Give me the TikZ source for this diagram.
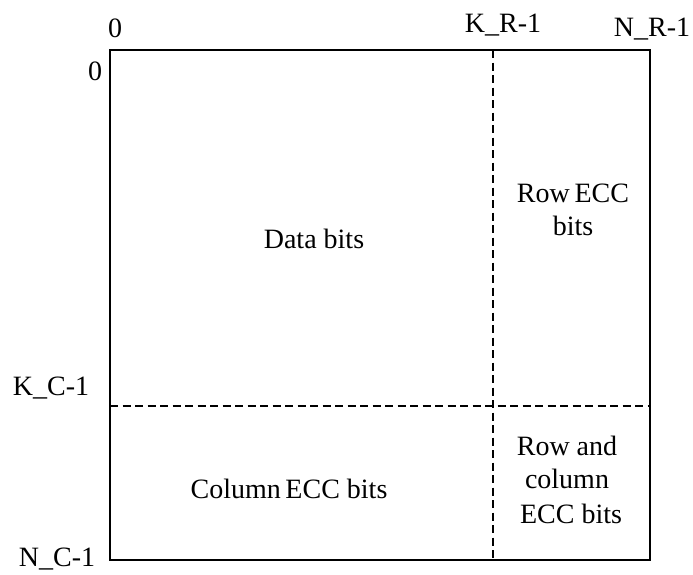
\documentclass[tikz,border=0pt]{standalone}
\usepackage{fontspec}
\setmainfont{Liberation Serif}
\usetikzlibrary{calc}
\begin{document}
\begin{tikzpicture}[line cap=butt,line join=miter,x=1pt,y=-1pt]
\tikzset{lbl/.style={font=\fontsize{28}{30}\selectfont,inner sep=0pt,anchor=base},
  area/.style={font=\fontsize{28}{30}\selectfont,inner sep=0pt,anchor=base},
  split/.style={dash pattern=on 8pt off 4.5pt,line width=1.3pt}}
\useasboundingbox (0,0) rectangle (693,574);
% corners of the block
\coordinate (tl) at (110,50);
\coordinate (br) at (650,560);
\coordinate (kr) at (493,50);
\coordinate (kc) at (110,406);
\draw[line width=1.5pt] (tl) rectangle (br);
\draw[split] (kr) -- (kr |- br);
\draw[split] (kc) -- (kc -| br);
% index labels
\node[lbl] (c0) at (115,37) {0};
\node[lbl] (ckr) at (503,32) {K\_R-1};
\node[lbl] (cnr) at (652,36) {N\_R-1};
\node[lbl] (r0) at (95,80) {0};
\node[lbl] (rkc) at (51,395) {K\_C-1};
\node[lbl] (rnc) at (57,566) {N\_C-1};
% regions
\node[area] (data) at (314,248) {Data bits};
\node[area] (rowecc) at (573,202) {Row\,ECC};
\node[area] (rowecc2) at (573,235) {bits};
\node[area] (colecc) at (289,498) {Column\,ECC bits};
\node[area] (both1) at (567,455) {Row and};
\node[area] (both2) at (567,488) {column};
\node[area] (both3) at (571,523) {ECC bits};
\end{tikzpicture}
\end{document}
